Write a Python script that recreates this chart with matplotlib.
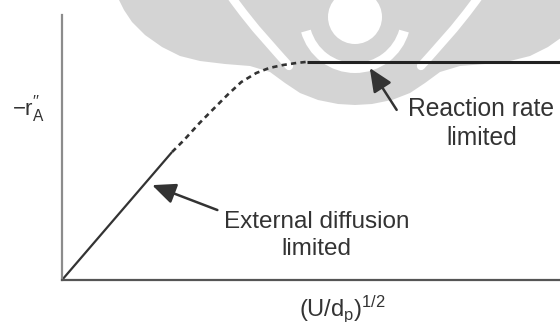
import numpy as np
import matplotlib.pyplot as plt
from matplotlib.patches import Polygon, Circle, Wedge, PathPatch
from matplotlib.path import Path

plt.rcParams['font.family'] = ['Liberation Sans', 'DejaVu Sans']
plt.rcParams['mathtext.fontset'] = 'custom'
plt.rcParams['mathtext.rm'] = 'Liberation Sans'
plt.rcParams['mathtext.it'] = 'Liberation Sans'

# rate curve, arbitrary units
linear_x = [0.0, 2.21]
linear_y = [0.0, 4.83]
transition_x = [2.21, 2.45, 2.76, 3.06, 3.32, 3.60, 3.90, 4.16, 4.43, 4.71, 4.91]
transition_y = [4.83, 5.28, 5.92, 6.49, 6.98, 7.47, 7.81, 8.00, 8.11, 8.19, 8.23]
plateau_x = [4.91, 10.0]
plateau_y = [8.23, 8.23]

ink = '#333333'

fig = plt.figure(figsize=(5.6, 3.22), dpi=100)

# faint logo in the background (pixel space, y down)
bg = fig.add_axes([0, 0, 1, 1], zorder=0)
bg.set_xlim(0, 560)
bg.set_ylim(322, 0)
bg.axis('off')
wm = '#d4d4d4'
cx = 355
half = [(118, -2), (124, 10), (132, 22), (145, 35), (162, 47), (180, 56), (200, 61),
        (225, 64), (250, 66), (270, 72), (285, 83), (300, 93), (318, 100), (338, 104)]
outline = half + [(cx, 105)] + [(2 * cx - x, y) for x, y in reversed(half)]
bg.add_patch(Polygon(outline, closed=True, fc=wm, ec='none'))
for sgn in (1, -1):
    # white gap between the wing and the bulb
    verts = [(cx - sgn * 125, -5), (cx - sgn * 100, 30), (cx - sgn * 80, 50), (cx - sgn * 66, 66)]
    gap = Path(verts, [Path.MOVETO, Path.CURVE4, Path.CURVE4, Path.CURVE4])
    bg.add_patch(PathPatch(gap, fc='none', ec='white', lw=6, capstyle='round'))
bg.add_patch(Wedge((cx, 17), 56, 16, 164, width=10, fc='white', ec='none'))
bg.add_patch(Circle((cx, 17), 27, fc='white', ec='none'))

ax = fig.add_axes([62 / 560, 42 / 322, 1 - 62 / 560, 265 / 322], zorder=1)
ax.patch.set_alpha(0)
ax.set_xlim(0, 10)
ax.set_ylim(0, 10)

ax.plot(linear_x, linear_y, color=ink, lw=1.6, solid_capstyle='butt')
dash, = ax.plot(transition_x, transition_y, color=ink, lw=1.9)
dash.set_dashes((2.0, 1.6))
ax.plot(plateau_x, plateau_y, color='#222222', lw=2.2, solid_capstyle='butt')

arrow = dict(arrowstyle='-|>,head_length=0.95,head_width=0.42', color=ink, lw=1.8,
             mutation_scale=15, shrinkA=0, shrinkB=0)
ax.annotate('', xy=(1.81, 3.58), xytext=(3.12, 2.64), arrowprops=arrow)
ax.annotate('', xy=(6.18, 8.0), xytext=(6.72, 6.42), arrowprops=arrow)

ax.text(5.11, (280 - 228) / 26.5, 'External diffusion', ha='center', va='baseline',
        fontsize=17.5, color=ink)
ax.text(5.11, (280 - 255) / 26.5, 'limited', ha='center', va='baseline',
        fontsize=17.5, color=ink)
ax.text(8.42, (280 - 116) / 26.5, 'Reaction rate', ha='center', va='baseline',
        fontsize=17.7, color=ink)
ax.text(8.42, (280 - 145) / 26.5, 'limited', ha='center', va='baseline',
        fontsize=17.7, color=ink)

for side in ('top', 'right'):
    ax.spines[side].set_visible(False)
ax.spines['left'].set_color('#8c8c8c')
ax.spines['left'].set_linewidth(1.6)
ax.spines['bottom'].set_color('#555555')
ax.spines['bottom'].set_linewidth(1.6)
ax.set_xticks([])
ax.set_yticks([])

fig.text(12 / 560, 1 - 115 / 322, r'$-\mathrm{r}^{\prime\prime}_{\mathrm{A}}$',
         ha='left', va='baseline', fontsize=16, color=ink)
fig.text(342 / 560, 1 - 316 / 322, r'$\mathrm{(U/d_p)^{1/2}}$',
         ha='center', va='baseline', fontsize=17, color=ink)

fig.savefig('out.png', dpi=100)
